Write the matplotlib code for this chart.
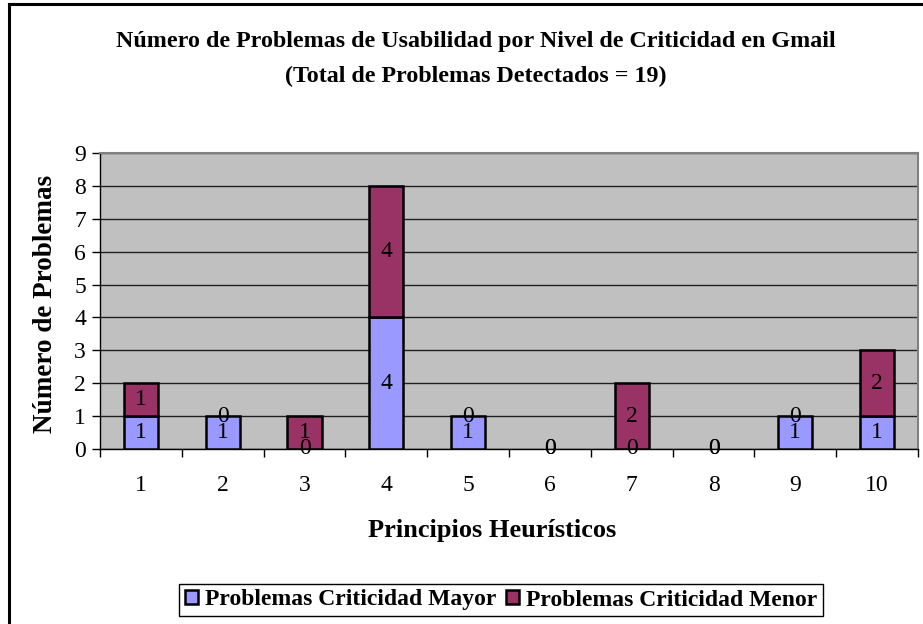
import matplotlib
matplotlib.use("Agg")
import matplotlib.pyplot as plt
from matplotlib.lines import Line2D
import numpy as np

# ── Data ─────────────────────────────────────────────────────────────────────
principios = ["1", "2", "3", "4", "5", "6", "7", "8", "9", "10"]
mayor = [1, 1, 0, 4, 1, 0, 0, 0, 1, 1]
menor = [1, 0, 1, 4, 0, 0, 2, 0, 0, 2]

COL_MAYOR = "#9999FF"
COL_MENOR = "#993366"
SERIF = "Liberation Serif"

plt.rcParams.update({"font.family": SERIF})

fig = plt.figure(figsize=(9.23, 6.24), dpi=100)
ax = fig.add_axes([100 / 923, 1 - 449 / 624, 818 / 923, 296 / 624])
ax.set_facecolor("#C0C0C0")

x = np.arange(1, len(principios) + 1)
bw = 0.42
b1 = ax.bar(x, mayor, bw, color=COL_MAYOR, edgecolor="black", linewidth=1.8,
            label="Problemas Criticidad Mayor", zorder=3)
b2 = ax.bar(x, menor, bw, bottom=mayor, color=COL_MENOR, edgecolor="black",
            linewidth=1.8, label="Problemas Criticidad Menor", zorder=3)
# zero-height segments are not drawn in the original
for bars in (b1, b2):
    for p in bars:
        if p.get_height() == 0:
            p.set_visible(False)

# value labels in the middle of each segment (zeros included)
for xi, a, b in zip(x, mayor, menor):
    ax.text(xi, a / 2, str(a), ha="center", va="center", fontsize=17, zorder=4)
    ax.text(xi, a + b / 2, str(b), ha="center", va="center", fontsize=17, zorder=4)

ax.set_xlim(0.5, len(principios) + 0.5)
ax.set_ylim(0, 9)
ax.set_yticks(range(0, 10))
ax.tick_params(axis="y", labelsize=17, length=6, width=1, direction="out", pad=4)
ax.set_xticks(np.arange(0.5, len(principios) + 1, 1))
ax.set_xticklabels([])
ax.set_xticks(x, minor=True)
ax.set_xticklabels(principios, minor=True, fontsize=17)
ax.tick_params(axis="x", which="major", length=6, width=1, direction="out")
ax.tick_params(axis="x", which="minor", length=0, pad=19)

ax.grid(axis="y", color="#202020", linewidth=1.0, zorder=1)
ax.set_axisbelow(True)
for s in ("top", "right"):
    ax.spines[s].set_color("#808080")
    ax.spines[s].set_linewidth(1.5)
ax.spines["left"].set_linewidth(1.0)
ax.spines["bottom"].set_linewidth(1.0)

ax.set_ylabel("Número de Problemas", fontsize=19.5, fontweight="bold")
ax.yaxis.set_label_coords(-(100 - 58) / 818, 0.49)
ax.set_xlabel("Principios Heurísticos", fontsize=19, fontweight="bold")
ax.xaxis.set_label_coords((492 - 100) / 818, -(519 - 449) / 296)

fig.text(476 / 923, 1 - 42 / 624,
         "Número de Problemas de Usabilidad por Nivel de Criticidad en Gmail",
         ha="center", va="center", fontsize=17.3, fontweight="bold")
fig.text(476 / 923, 1 - 76 / 624, "(Total de Problemas Detectados = 19)",
         ha="center", va="center", fontsize=17.3, fontweight="bold")

leg = fig.legend(loc="center", bbox_to_anchor=(501 / 923, 1 - 600 / 624), ncol=2,
                 fancybox=False, edgecolor="black", framealpha=1,
                 prop={"family": SERIF, "weight": "bold", "size": 17},
                 handlelength=0.55, handleheight=0.55, handletextpad=0.3,
                 columnspacing=0.4, borderpad=0.25)
leg.get_frame().set_linewidth(1.0)

# outer chart border (top and left visible)
fig.add_artist(Line2D([9 / 923, 9 / 923], [0, 1 - 4 / 624],
                      transform=fig.transFigure, color="black", linewidth=2.2))
fig.add_artist(Line2D([9 / 923, 1], [1 - 4 / 624, 1 - 4 / 624],
                      transform=fig.transFigure, color="black", linewidth=2.2))

fig.savefig("out.png", dpi=100, facecolor="white")
